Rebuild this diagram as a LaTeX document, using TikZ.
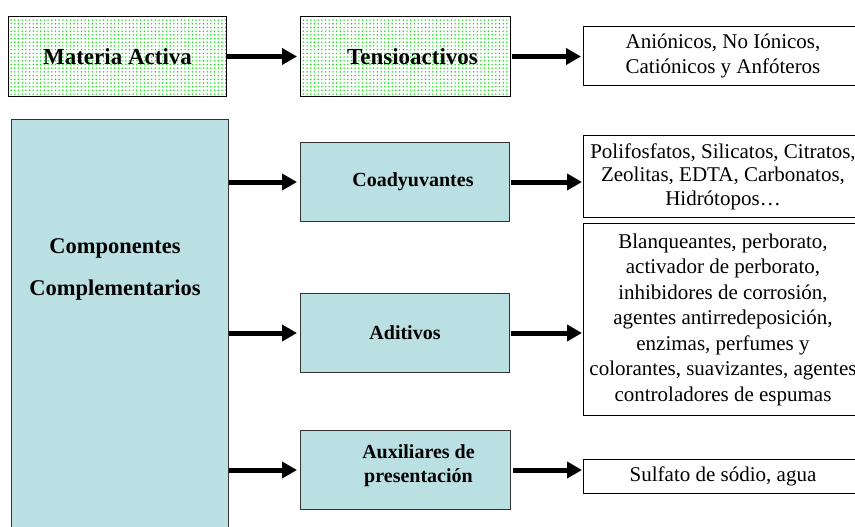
\documentclass[tikz,border=0pt]{standalone}
\usepackage{fontspec}
\setmainfont{Liberation Serif}
\usetikzlibrary{arrows.meta,patterns.meta}
\definecolor{boxblue}{RGB}{186,224,227}
\definecolor{dotgreen}{RGB}{0,225,0}
\tikzdeclarepattern{name=gdots, type=uncolored,
  bounding box={(-1pt,-1pt) and (1pt,1pt)},
  tile size={(3.7pt,3.7pt)},
  code={\fill (0pt,0pt) circle (0.8pt);}}
\begin{document}
\begin{tikzpicture}[x=1pt,y=-1pt,
  box/.style={anchor=north west,inner sep=0pt,line width=1pt},
  greenbox/.style={box,draw=black,pattern={gdots},pattern color=dotgreen},
  bluebox/.style={box,draw=black!80,fill=boxblue},
  whitebox/.style={box,draw=black,fill=white,align=center,font=\fontsize{21}{25}\selectfont},
  gtext/.style={font=\fontsize{23}{26}\selectfont\bfseries},
  btext/.style={font=\fontsize{20}{24}\selectfont\bfseries,align=center},
  arr/.style={line width=5pt,-{Triangle[length=15pt,width=16pt]}}]
\useasboundingbox (0,0) rectangle (855,527);

% top row
\node[greenbox,minimum width=218pt,minimum height=80pt] (mat) at (8,16) {};
\node[gtext] (matT) at (mat.center) {Materia Activa};
\node[greenbox,minimum width=210pt,minimum height=80pt] (ten) at (300,16) {};
\node[gtext] (tenT) at ([xshift=7pt]ten.center) {Tensioactivos};
\node[whitebox,minimum width=279pt,minimum height=59pt] (anio) at (583,26)
  {Aniónicos, No Iónicos,\\Catiónicos y Anfóteros};

% big box
\node[bluebox,minimum width=217pt,minimum height=420pt] (big) at (11,119) {};
\node[btext,font=\fontsize{22.5}{42}\selectfont\bfseries] (bigT) at (115,269)
  {Componentes\\Complementarios};

% middle column
\node[bluebox,minimum width=209pt,minimum height=79pt] (coady) at (300,142) {};
\node[btext] (coadyT) at ([xshift=8pt]coady.center) {Coadyuvantes};
\node[bluebox,minimum width=209pt,minimum height=79pt] (adit) at (300,293) {};
\node[btext] (aditT) at (adit.center) {Aditivos};
\node[bluebox,minimum width=210pt,minimum height=79pt] (aux) at (300,430) {};
\node[btext] (auxT) at ([xshift=13pt,yshift=4pt]aux.center) {Auxiliares de\\presentación};

% right column
\node[whitebox,minimum width=279pt,minimum height=82pt,font=\fontsize{21}{23.5}\selectfont] (polif) at (583,135)
  {Polifosfatos, Silicatos, Citratos,\\Zeolitas, EDTA, Carbonatos,\\Hidrótopos…};
\node[whitebox,minimum width=279pt,minimum height=192pt,font=\fontsize{21}{25.5}\selectfont] (blanq) at (583,223)
  {Blanqueantes, perborato,\\activador de perborato,\\inhibidores de corrosión,\\agentes antirredeposición,\\enzimas, perfumes y\\colorantes, suavizantes, agentes\\controladores de espumas};
\node[whitebox,minimum width=279pt,minimum height=34pt] (sulf) at (583,459)
  {Sulfato de sódio, agua};

% arrows
\draw[arr] (mat.east) -- ([xshift=-3pt]ten.west);
\draw[arr] ([xshift=1pt]ten.east) -- ([xshift=-2pt]ten.east -| anio.west);
\draw[arr] (big.east |- coady.west) -- ([xshift=-3pt]coady.west);
\draw[arr] (big.east |- adit.west) -- ([xshift=-3pt]adit.west);
\draw[arr] (big.east |- aux.west) -- ([xshift=-3pt]aux.west);
\draw[arr] ([xshift=1pt]coady.east) -- ([xshift=-1pt]coady.east -| polif.west);
\draw[arr] ([xshift=1pt]adit.east) -- ([xshift=-1pt]adit.east -| blanq.west);
\draw[arr] ([xshift=2pt]aux.east) -- ([xshift=-1pt]aux.east -| sulf.west);
\end{tikzpicture}
\end{document}
